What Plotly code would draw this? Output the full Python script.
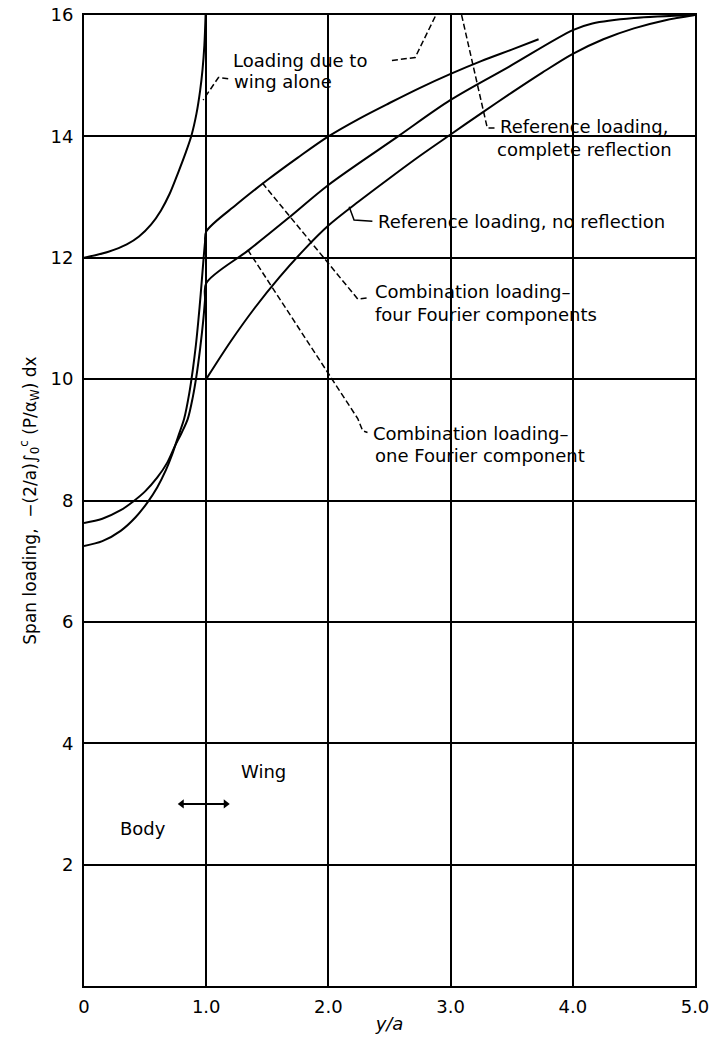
import plotly.graph_objects as go

# ---------------- data ----------------
x_wing_alone = [0.0, 0.2, 0.35, 0.45, 0.55, 0.63, 0.7, 0.77, 0.83, 0.88, 0.92, 0.95, 0.97, 0.985, 0.995]
y_wing_alone = [12.0, 12.1, 12.22, 12.35, 12.55, 12.78, 13.05, 13.4, 13.72, 14.02, 14.37, 14.75, 15.1, 15.5, 16.0]

x_four = [0.0, 0.15, 0.3, 0.42, 0.52, 0.6, 0.67, 0.72, 0.77, 0.82, 0.86, 0.89, 0.915, 0.935, 0.955, 0.975, 0.99,
          1.0, 1.25, 1.5, 1.75, 2.0, 2.25, 2.5, 2.75, 3.0, 3.25, 3.5, 3.72]
y_four = [7.25, 7.33, 7.5, 7.72, 7.97, 8.22, 8.5, 8.75, 9.05, 9.35, 9.75, 10.15, 10.55, 10.95, 11.4, 11.9, 12.25,
          12.43, 12.88, 13.28, 13.65, 14.0, 14.29, 14.55, 14.8, 15.03, 15.24, 15.43, 15.6]

x_one = [0.0, 0.15, 0.3, 0.4, 0.5, 0.6, 0.68, 0.74, 0.8, 0.85, 0.89, 0.92, 0.95, 0.975, 0.99,
         1.0, 1.35, 1.67, 2.0, 2.57, 3.0, 3.48, 4.0, 4.16, 4.5, 5.0]
y_one = [7.63, 7.7, 7.84, 7.98, 8.15, 8.38, 8.62, 8.88, 9.12, 9.35, 9.7, 10.05, 10.5, 10.95, 11.3,
         11.58, 12.13, 12.65, 13.2, 14.0, 14.6, 15.15, 15.75, 15.86, 15.95, 16.0]

x_ref_none = [1.0, 1.2, 1.4, 1.6, 1.8, 2.0, 2.25, 2.5, 2.75, 3.0, 3.25, 3.5, 3.75, 4.0, 4.25, 4.5, 4.75, 5.0]
y_ref_none = [10.0, 10.62, 11.18, 11.68, 12.13, 12.53, 12.93, 13.31, 13.68, 14.03, 14.38, 14.72, 15.05, 15.36,
              15.6, 15.78, 15.91, 16.0]

x_ticks = [0, 1, 2, 3, 4, 5]
x_ticktext = ["0", "1.0", "2.0", "3.0", "4.0", "5.0"]
y_ticks = [2, 4, 6, 8, 10, 12, 14, 16]
y_ticktext = ["2", "4", "6", "8", "10", "12", "14", "16"]

# ---------------- styling ----------------
FONT = "DejaVu Sans"
BLACK = "black"
LW = 2
TXT = 18

fig = go.Figure()

for xs, ys in [(x_wing_alone, y_wing_alone), (x_four, y_four),
               (x_one, y_one), (x_ref_none, y_ref_none)]:
    fig.add_trace(go.Scatter(x=xs, y=ys, mode="lines",
                             line=dict(color=BLACK, width=LW, shape="spline", smoothing=0.9),
                             showlegend=False, hoverinfo="skip"))

# leader lines (annotation decorations)
leaders_dashed = [
    ([2.52, 2.71, 2.88], [15.25, 15.3, 16.0]),                # Loading due to
    ([1.18, 1.1, 0.975], [14.95, 14.97, 14.6]),               # wing alone
    ([3.09, 3.29, 3.30, 3.36], [16.0, 14.27, 14.14, 14.14]),  # complete reflection
    ([1.46, 2.24, 2.33], [13.23, 11.32, 11.34]),              # four Fourier
    ([1.34, 2.24, 2.28, 2.32], [12.13, 9.35, 9.15, 9.12]),    # one Fourier
]
for lx, ly in leaders_dashed:
    fig.add_trace(go.Scatter(x=lx, y=ly, mode="lines",
                             line=dict(color=BLACK, width=1.5, dash="6px,3px"),
                             showlegend=False, hoverinfo="skip"))
# solid leader for "no reflection"
fig.add_trace(go.Scatter(x=[2.17, 2.21, 2.36], y=[12.84, 12.62, 12.6], mode="lines",
                         line=dict(color=BLACK, width=1.5),
                         showlegend=False, hoverinfo="skip"))

# double arrow Body <-> Wing
fig.add_trace(go.Scatter(x=[0.8, 1.16], y=[3.0, 3.0], mode="lines+markers",
                         line=dict(color=BLACK, width=2),
                         marker=dict(symbol=["triangle-left", "triangle-right"], size=8, color=BLACK),
                         showlegend=False, hoverinfo="skip"))

labels = [
    ("Loading due to", 1.20, 15.25),
    ("wing alone", 1.21, 14.9),
    ("Reference loading,", 3.39, 14.16),
    ("complete reflection", 3.36, 13.78),
    ("Reference loading, no reflection", 2.39, 12.59),
    ("Combination loading\u2013", 2.365, 11.44),
    ("four Fourier components", 2.365, 11.06),
    ("Combination loading\u2013", 2.345, 9.1),
    ("one Fourier component", 2.365, 8.74),
]
for txt, lx, ly in labels:
    fig.add_annotation(x=lx, y=ly, text=txt, showarrow=False, xanchor="left",
                       yanchor="middle", font=dict(family=FONT, size=TXT, color=BLACK))

fig.add_annotation(x=1.465, y=3.53, text="Wing", showarrow=False,
                   font=dict(family=FONT, size=TXT, color=BLACK))
fig.add_annotation(x=0.483, y=2.59, text="Body", showarrow=False,
                   font=dict(family=FONT, size=TXT, color=BLACK))

axis_common = dict(showgrid=True, gridcolor=BLACK, gridwidth=2, showline=True,
                   linecolor=BLACK, linewidth=2, mirror=True, zeroline=False,
                   automargin=False,
                   ticks="", tickfont=dict(family=FONT, size=18, color=BLACK))

fig.update_xaxes(range=[0, 5], tickvals=x_ticks, ticktext=x_ticktext, ticklabelstandoff=3,
                 title=dict(text="<i>y/a</i>", font=dict(family=FONT, size=18, color=BLACK),
                            standoff=2),
                 **axis_common)
fig.update_yaxes(range=[0, 16], tickvals=y_ticks, ticktext=y_ticktext, ticklabelstandoff=5,
                 title=dict(text="Span loading,  \u2212(2/a)\u222b<sub>0</sub><sup>c</sup> (P/\u03b1<sub>W</sub>) dx",
                            font=dict(family=FONT, size=17, color=BLACK), standoff=10),
                 **axis_common)

fig.update_layout(width=713, height=1037, margin=dict(l=84, r=18, t=15, b=51, autoexpand=False),
                  plot_bgcolor="white", paper_bgcolor="white")

fig.write_html("out.html")
